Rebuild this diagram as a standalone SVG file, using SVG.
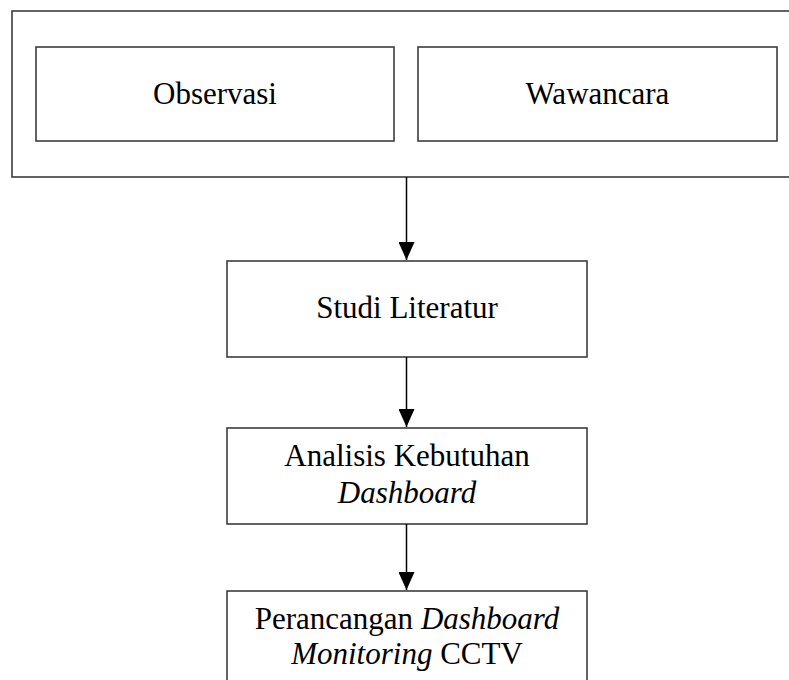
<svg xmlns="http://www.w3.org/2000/svg" width="789" height="680" viewBox="0 0 789 680">
<style>
.box{fill:#fff;stroke:#3c3c3c;stroke-width:1.6}
.lbl{font-family:"Liberation Serif","Times New Roman",serif;font-size:31px;fill:#000;text-anchor:middle}
.it{font-style:italic}
.conn{stroke:#000;stroke-width:1.5;fill:none}
</style>
<defs>
<marker id="ah" viewBox="0 0 18 16" refX="18" refY="8" markerWidth="18" markerHeight="16" markerUnits="userSpaceOnUse" orient="auto">
<path d="M0,0 L18,8 L0,16 Z" fill="#000"/>
</marker>
</defs>
<rect width="789" height="680" fill="#fff"/>
<g id="group-pengumpulan">
<rect class="box" x="12" y="11" width="800" height="166"/>
</g>
<g id="observasi">
<rect class="box" x="36" y="47" width="358" height="94"/>
<text class="lbl" x="215" y="104">Observasi</text>
</g>
<g id="wawancara">
<rect class="box" x="418" y="47" width="359" height="94"/>
<text class="lbl" x="597.5" y="104">Wawancara</text>
</g>
<g id="studi-literatur">
<rect class="box" x="227" y="261" width="360" height="96"/>
<text class="lbl" x="407" y="318">Studi Literatur</text>
</g>
<g id="analisis">
<rect class="box" x="227" y="428" width="360" height="96"/>
<text class="lbl" x="407" y="466">Analisis Kebutuhan</text>
<text class="lbl it" x="407" y="503">Dashboard</text>
</g>
<g id="perancangan">
<rect class="box" x="227" y="591" width="360" height="120"/>
<text class="lbl" x="407" y="629">Perancangan <tspan class="it">Dashboard</tspan></text>
<text class="lbl" x="407" y="664"><tspan class="it">Monitoring</tspan> CCTV</text>
</g>
<g id="connectors">
<line class="conn" x1="406.5" y1="177" x2="406.5" y2="260" marker-end="url(#ah)"/>
<line class="conn" x1="406.5" y1="357" x2="406.5" y2="427" marker-end="url(#ah)"/>
<line class="conn" x1="406.5" y1="524" x2="406.5" y2="590" marker-end="url(#ah)"/>
</g>
</svg>
